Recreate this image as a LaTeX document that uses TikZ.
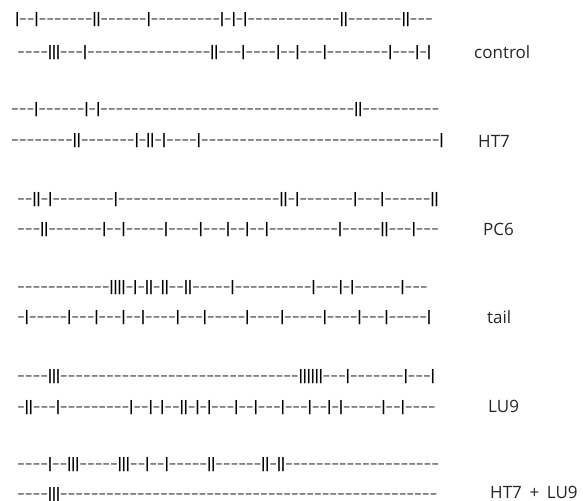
\documentclass[tikz,border=0pt]{standalone}
\usepackage{fontspec}
\setmainfont{Open Sans}
\newfontfamily\strandfont{Liberation Sans}

% fixed advance for each mark of a strand
\newlength\DashW \setlength\DashW{0.231cm}
\newlength\BarW  \setlength\BarW{0.12cm}
\def\Strand#1{\StrandStep#1\relax}
\def\StrandStep#1{\ifx\relax#1\else
  \ifx|#1\makebox[\BarW]{\textcolor{black}{\scalebox{1.25}[1]{|}}}\else\makebox[\DashW]{\scalebox{1.55}[1]{-}}\fi
  \expandafter\StrandStep\fi}

\begin{document}
\begin{tikzpicture}[x=0.03cm, y=-0.03cm,
    strand/.style={anchor=west, inner sep=0pt, text=black!75,
      font=\strandfont\fontsize{13}{13}\selectfont},
    tag/.style={anchor=west, inner sep=0pt, text=black!85,
      font=\fontsize{14.5}{14.5}\selectfont}]

    % Page frame
    \fill[white] (0,0) rectangle (583,501);
    \useasboundingbox (0,0) rectangle (583,501);

    % control
    \node[strand] (ControlTop) at (15,20) {\Strand{|--|-------||------|---------|-|-| ---------- -- ||-------||---}};
    \node[strand] (ControlBottom) at (17,53) {\Strand{----|||---| ---------- ------ ||---|----|--|---|--------|---|-|}};
    \node[tag] (ControlTag) at (474,52) {control};

    % HT7
    \node[strand] (HTTop) at (11,110) {\Strand{---|------|-| ---------- ---------- ---------- --- || ----------}};
    \node[strand] (HTBottom) at (11,141) {\Strand{--------||-------|-||-|----| ---------- ---------- ---------- - |}};
    \node[tag] (HTTag) at (478,141) {HT7};

    % PC6
    \node[strand] (PCTop) at (17,200) {\Strand{--||-|--------| ---------- ---------- - ||-|-------|---|------||}};
    \node[strand] (PCBottom) at (17,230) {\Strand{---||-------|--|-----|----|---|--|--| --------- |-----||---|---}};
    \node[tag] (PCTag) at (483,229) {PC6};

    % tail
    \node[strand] (TailTop) at (17,288) {\Strand{---------- -- ||||-|-||-||--||-----| ---------- |---|-|------|---}};
    \node[strand] (TailBottom) at (17,318) {\Strand{-|-----|---|---|--|----|---|-----|----|-----|----|---|-----|}};
    \node[tag] (TailTag) at (487,317) {tail};

    % LU9
    \node[strand] (LUTop) at (17,377) {\Strand{----||| ---------- ---------- ---------- - ||||||---|-------|---|}};
    \node[strand] (LUBottom) at (17,408) {\Strand{-||---|---------|--|-|--||-|-|---|--|---|---|--|-|-----|--|----}};
    \node[tag] (LUTag) at (488,406) {LU9};

    % HT7 + LU9
    \node[strand] (BothTop) at (17,465) {\Strand{----|--|||-----|||--|--|-----||------||-|| ---------- ----------}};
    \node[strand] (BothBottom) at (17,495) {\Strand{----||| ---------- ---------- ---------- ---------- ---------}};
    \node[tag] (BothTag) at (490,492) {HT7\hspace{0.45em}+\hspace{0.45em}LU9};

\end{tikzpicture}
\end{document}
